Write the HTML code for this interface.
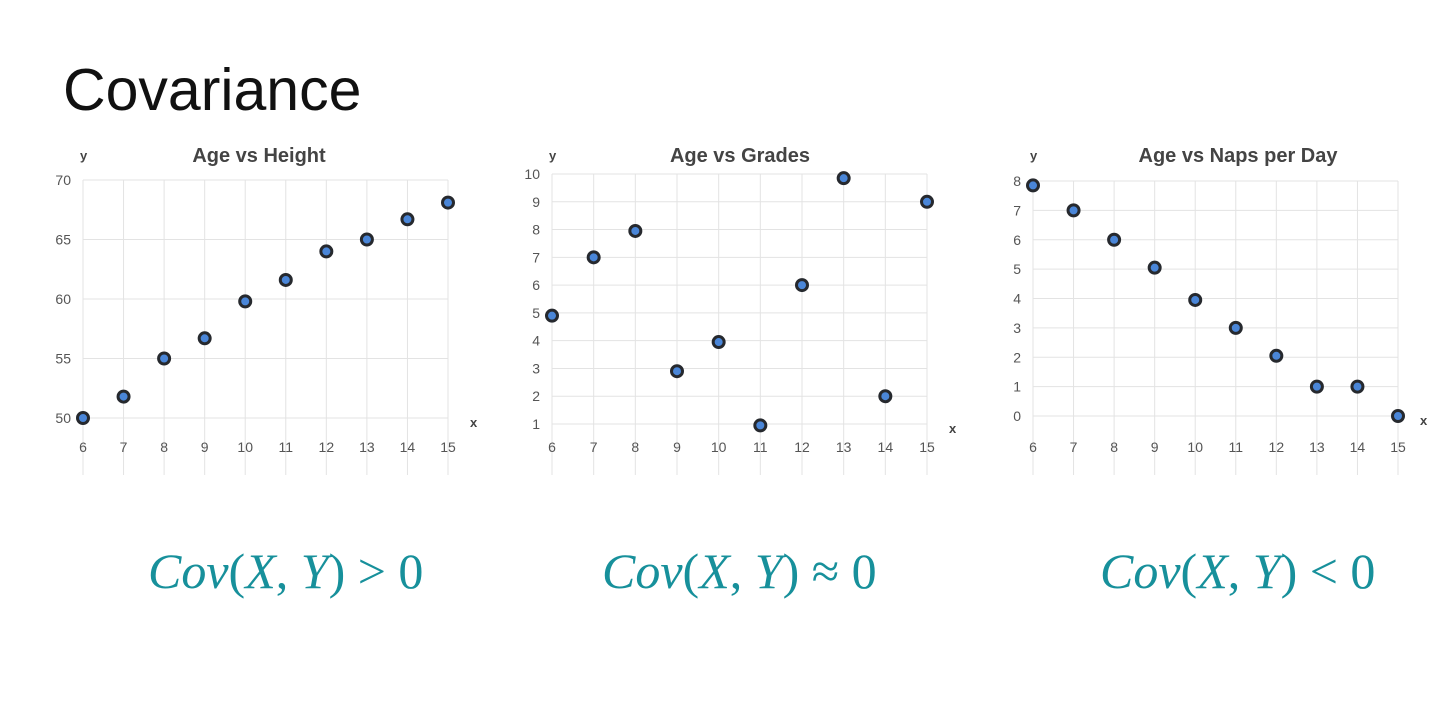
<!DOCTYPE html>
<html><head><meta charset="utf-8"><style>
body{margin:0;width:1440px;height:711px;background:#fff;overflow:hidden;font-family:"Liberation Sans",sans-serif}
#title{position:absolute;left:63px;top:56px;font-size:59px;color:#111}
.f{position:absolute;top:542px;font-family:"Liberation Serif",serif;font-size:50px;color:#17909b;white-space:nowrap}
.f i{font-style:italic}
svg{position:absolute;left:0;top:0}
</style></head><body>
<div id="title">Covariance</div>
<svg id="s" width="1440" height="711"></svg>
<div class="f" style="left:148px"><i>Cov</i>(<i>X</i>, <i>Y</i>) &gt; 0</div>
<div class="f" style="left:602px"><i>Cov</i>(<i>X</i>, <i>Y</i>) ≈ 0</div>
<div class="f" style="left:1100px"><i>Cov</i>(<i>X</i>, <i>Y</i>) &lt; 0</div>
<script>
const ages=[6,7,8,9,10,11,12,13,14,15];
const height=[50,51.8,55,56.7,59.8,61.6,64,65,66.7,68.1];
const heightTicks=[50,55,60,65,70];
const grades=[4.9,7,7.95,2.9,3.95,0.95,6,9.85,2,9];
const gradeTicks=[1,2,3,4,5,6,7,8,9,10];
const naps=[7.85,7,6,5.05,3.95,3,2.05,1,1,0];
const napTicks=[0,1,2,3,4,5,6,7,8];
const svg=document.getElementById('s');
const NS='http://www.w3.org/2000/svg';
function mk(t,a,p){const e=document.createElementNS(NS,t);for(const k in a)e.setAttribute(k,a[k]);(p||svg).appendChild(e);return e;}
function chart(name,title,x0,x1,y0,y1,ymin,ymax,ticks,vals,tx){
  const g=mk('g',{});
  
  
  const sx=v=>x0+(v-6)/(15-6)*(x1-x0);
  const sy=v=>y0+(v-ymin)/(ymax-ymin)*(y1-y0);
  ticks.forEach(t=>{
    const l=mk('line',{x1:x0,x2:x1,y1:sy(t),y2:sy(t),stroke:'#e3e3e3','stroke-width':1},g);
    
    
    const tt=mk('text',{x:x0-12,y:sy(t)+5,'text-anchor':'end','font-size':14,fill:'#555'},g);
    tt.textContent=t;
    
    
  });
  ages.forEach(a=>{
    const l=mk('line',{x1:sx(a),x2:sx(a),y1:y1,y2:475,stroke:'#e3e3e3','stroke-width':1},g);
    
    
    const tt=mk('text',{x:sx(a),y:452,'text-anchor':'middle','font-size':14,fill:'#555'},g);
    tt.textContent=a;
    
    
  });
  const ti=mk('text',{x:tx,y:162,'text-anchor':'middle','font-size':20,'font-weight':'bold',fill:'#444'},g);
  ti.textContent=title;
  
  
  const ya=mk('text',{x:x0-3,y:160,'font-size':13,'font-weight':'bold',fill:'#444'},g);
  ya.textContent='y';
  
  
  const xa=mk('text',{x:x1+22,y:y0+9,'font-size':13,'font-weight':'bold',fill:'#444'},g);
  xa.textContent='x';
  
  
  vals.forEach((v,i)=>{
    const c=mk('circle',{cx:sx(ages[i]),cy:sy(v),r:5.5,fill:'#4a86d8',stroke:'#26292e','stroke-width':3},g);
    
    
  });
}
chart('age-vs-height-chart','Age vs Height',83,448,418,180,50,70,heightTicks,height,259);
chart('age-vs-grades-chart','Age vs Grades',552,927,424,174,1,10,gradeTicks,grades,740);
chart('age-vs-naps-chart','Age vs Naps per Day',1033,1398,416,181,0,8,napTicks,naps,1238);
</script>
</body></html>
